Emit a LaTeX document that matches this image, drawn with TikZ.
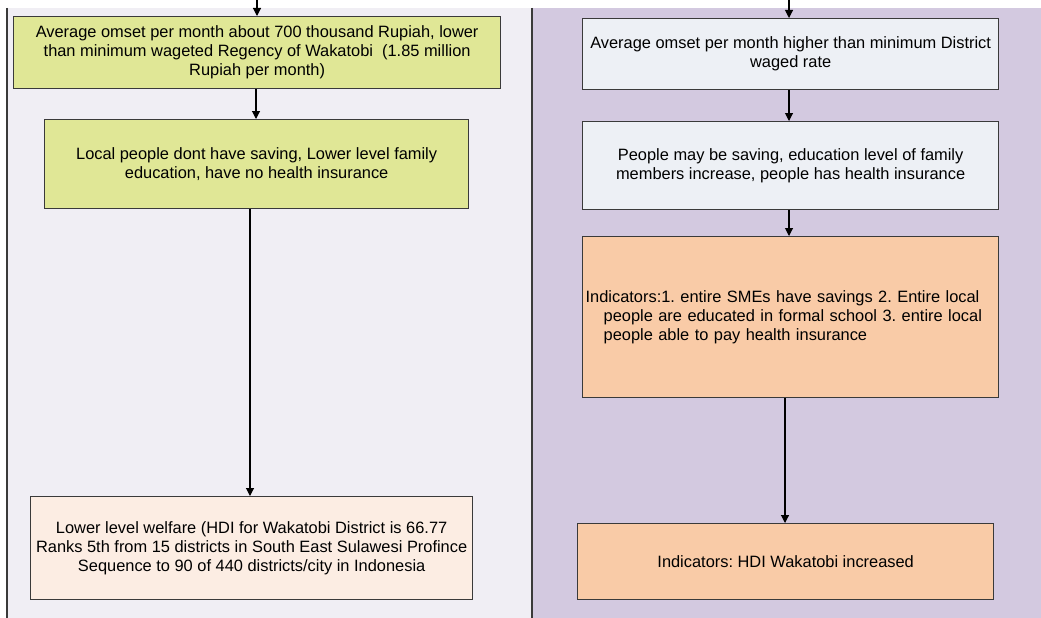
\documentclass[tikz,border=0pt]{standalone}
\usepackage{fontspec}
\setmainfont{Liberation Sans}
\usetikzlibrary{arrows.meta}
\definecolor{leftbg}{HTML}{F0EEF4}
\definecolor{rightbg}{HTML}{D3C9E0}
\definecolor{yellowbox}{HTML}{E0E796}
\definecolor{creambox}{HTML}{FCEDE3}
\definecolor{greybox}{HTML}{EDF0F5}
\definecolor{orangebox}{HTML}{F9CBA7}
\definecolor{edge}{HTML}{3A3A3A}
\begin{document}
\frenchspacing
\begin{tikzpicture}[x=1pt,y=-1pt,
  box/.style={draw=edge, line width=1.3pt, font=\fontsize{16.4}{19}\selectfont, align=center, inner sep=0pt, anchor=north west},
  conn/.style={draw=black, line width=1.1pt, -{Triangle[width=8pt,length=8pt]}},
  divider/.style={draw=edge, line width=1.4pt}]
\useasboundingbox (0,0) rectangle (1041,618);
\fill[white] (0,0) rectangle (1041,618);
\fill[leftbg] (7,8) rectangle (532,618);
\fill[rightbg] (532,8) rectangle (1041,618);
\draw[divider] (7,8) -- (7,618);
\draw[divider] (532,8) -- (532,618);

% left column
\node[box, fill=yellowbox, minimum width=487pt, minimum height=72pt] (L1) at (13,16)
  {Average omset per month about 700 thousand Rupiah, lower\\than minimum wageted Regency of Wakatobi\ \ (1.85 million\\Rupiah per month)};
\node[box, fill=yellowbox, minimum width=424pt, minimum height=89pt] (L2) at (44,119)
  {Local people dont have saving, Lower level family\\education, have no health insurance};
\node[box, fill=creambox, minimum width=442pt, minimum height=103pt] (L3) at (30,496)
  {Lower level welfare (HDI for Wakatobi District is 66.77\\Ranks 5th from 15 districts in South East Sulawesi Profince\\Sequence to 90 of 440 districts/city in Indonesia};

% right column
\node[box, fill=greybox, minimum width=416pt, minimum height=71pt] (R1) at (582,18)
  {Average omset per month higher than minimum District\\waged rate};
\node[box, fill=greybox, minimum width=416pt, minimum height=88pt] (R2) at (582,121)
  {People may be saving, education level of family\\members increase, people has health insurance};
\node[box, fill=orangebox, minimum width=416pt, minimum height=161pt, text width=410pt, align=left, inner xsep=3pt] (R3) at (582,236)
  {Indicators:1. entire SMEs have savings 2. Entire local\\\hspace*{18pt}people are educated in formal school 3. entire local\\\hspace*{18pt}people able to pay health insurance};
\node[box, fill=orangebox, minimum width=416pt, minimum height=76pt] (R4) at (577,523)
  {Indicators: HDI Wakatobi increased};

\coordinate (topL) at (257,0);
\coordinate (topR) at (789,0);

\draw[conn] (topL) -- (topL |- L1.north);
\draw[conn] (L1.south -| 256,0) -- (L2.north -| 256,0);
\draw[conn] (L2.south -| 250,0) -- (L3.north -| 250,0);
\draw[conn] (topR) -- (topR |- R1.north);
\draw[conn] (R1.south -| 789,0) -- (R2.north -| 789,0);
\draw[conn] (R2.south -| 789,0) -- (R3.north -| 789,0);
\draw[conn] (R3.south -| 785,0) -- (R4.north -| 785,0);
\end{tikzpicture}
\end{document}
